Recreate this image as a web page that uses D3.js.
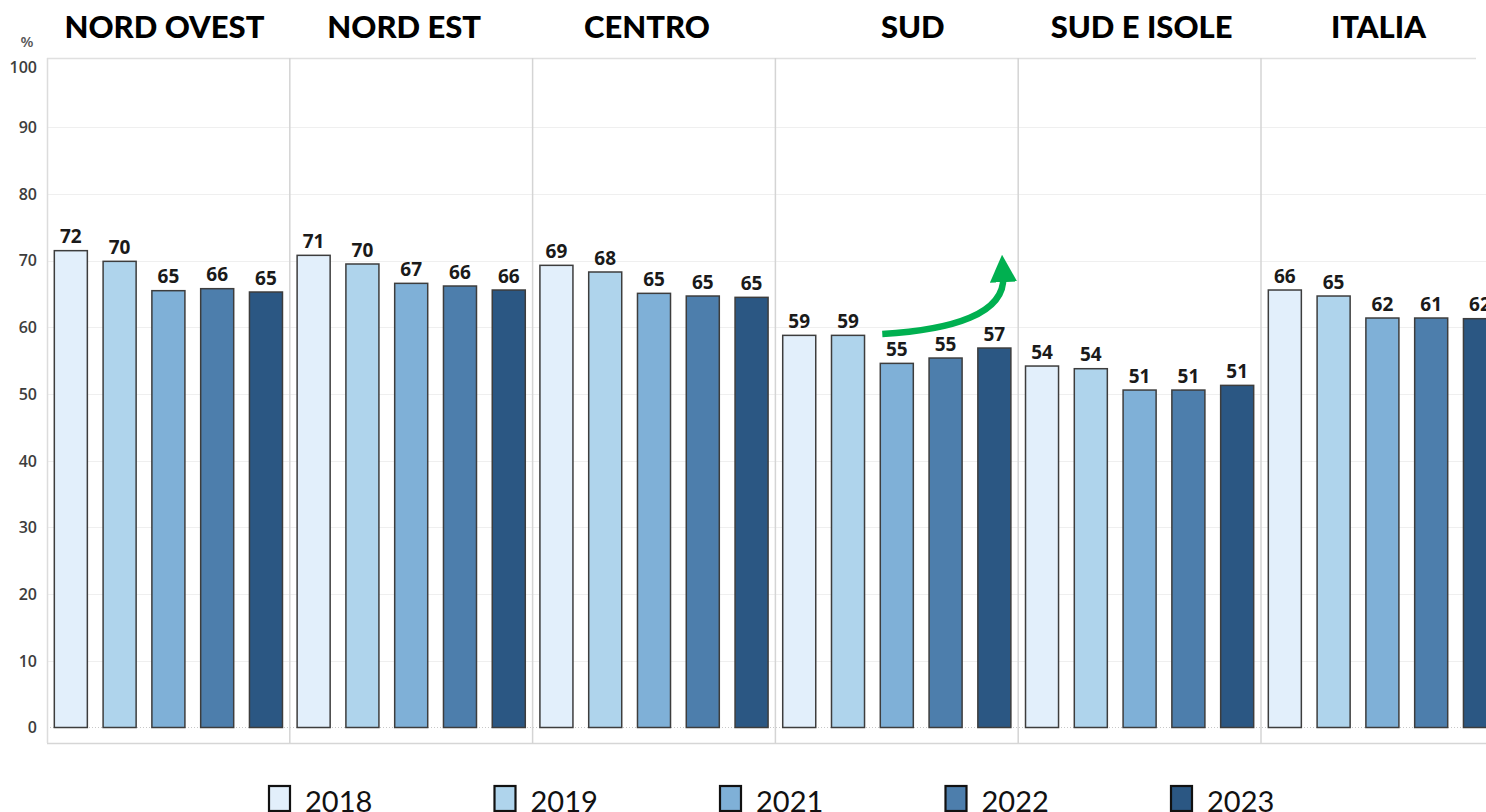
<!DOCTYPE html>
<meta charset="utf-8">
<title>Regioni 2018-2023</title>
<script src="https://d3js.org/d3.v7.min.js"></script>
<style>
  body { margin: 0; background: #fff; overflow: hidden; }
</style>
<div id="my_dataviz"></div>
<script>

// data
var regions = ["NORD OVEST", "NORD EST", "CENTRO", "SUD", "SUD E ISOLE", "ITALIA"];
var years = ["2018", "2019", "2021", "2022", "2023"];
var values2018 = [71.5, 70.8, 69.3, 58.8, 54.2, 65.6];
var values2019 = [69.9, 69.5, 68.3, 58.8, 53.8, 64.7];
var values2021 = [65.5, 66.6, 65.1, 54.6, 50.6, 61.4];
var values2022 = [65.8, 66.2, 64.7, 55.4, 50.6, 61.4];
var values2023 = [65.3, 65.6, 64.5, 56.9, 51.3, 61.3];
var labels2018 = ["72", "71", "69", "59", "54", "66"];
var labels2019 = ["70", "70", "68", "59", "54", "65"];
var labels2021 = ["65", "67", "65", "55", "51", "62"];
var labels2022 = ["66", "66", "65", "55", "51", "61"];
var labels2023 = ["65", "66", "65", "57", "51", "62"];
var yTicks = [0, 10, 20, 30, 40, 50, 60, 70, 80, 90, 100];

var colors = ["#e2effb", "#afd4ec", "#7fb0d7", "#4d7eac", "#2b5783"];

var seriesValues = [values2018, values2019, values2021, values2022, values2023];
var seriesLabels = [labels2018, labels2019, labels2021, labels2022, labels2023];

var data = [];
regions.forEach(function(r, i) {
  years.forEach(function(yr, j) {
    data.push({region: r, year: yr, value: seriesValues[j][i], label: seriesLabels[j][i]});
  });
});

var W = 1486, H = 812;
var plotLeft = 47, plotTop = 58, plotBottom = 743;

var svg = d3.select("#my_dataviz")
  .append("svg")
    .attr("width", W)
    .attr("height", H)
    .style("display", "block");

// scales
var x0 = d3.scaleBand()
  .domain(regions)
  .range([plotLeft, plotLeft + 6 * 242.8])
  .padding(0);

var x1 = d3.scaleBand()
  .domain(years)
  .range([0, x0.bandwidth()])
  .paddingInner(0.323)
  .paddingOuter(0.15);

var y = d3.scaleLinear()
  .domain([0, 100])
  .range([727.5, 60.6]);

var color = d3.scaleOrdinal().domain(years).range(colors);

// grid lines
svg.append("g")
  .selectAll("line")
  .data(yTicks.filter(function(d) { return d > 0 && d < 100; }))
  .enter().append("line")
    .attr("x1", plotLeft)
    .attr("x2", W)
    .attr("y1", function(d) { return Math.round(y(d)) + 0.5; })
    .attr("y2", function(d) { return Math.round(y(d)) + 0.5; })
    .attr("stroke", "#efefef")
    .attr("stroke-width", 1.2);

// zero line, dotted
svg.append("line")
  .attr("x1", plotLeft)
  .attr("x2", W)
  .attr("y1", y(0))
  .attr("y2", y(0))
  .attr("stroke", "#c8c8c8")
  .attr("stroke-dasharray", "1,2");

// frame
svg.append("line")
  .attr("x1", plotLeft).attr("x2", 1476)
  .attr("y1", plotTop + 0.5).attr("y2", plotTop + 0.5)
  .attr("stroke", "#e0e0e0").attr("stroke-width", 1.5);
svg.append("line")
  .attr("x1", plotLeft).attr("x2", W)
  .attr("y1", plotBottom + 0.5).attr("y2", plotBottom + 0.5)
  .attr("stroke", "#d6d6d6").attr("stroke-width", 1.5);
svg.append("line")
  .attr("x1", plotLeft + 0.5).attr("x2", plotLeft + 0.5)
  .attr("y1", plotTop).attr("y2", plotBottom)
  .attr("stroke", "#dcdcdc").attr("stroke-width", 1.5);

// panel separators
svg.append("g")
  .selectAll("line")
  .data(regions.slice(1))
  .enter().append("line")
    .attr("x1", function(d) { return x0(d); })
    .attr("x2", function(d) { return x0(d); })
    .attr("y1", plotTop)
    .attr("y2", plotBottom)
    .attr("stroke", "#d4d4d4")
    .attr("stroke-width", 1.5);

// y axis labels
svg.append("g")
  .selectAll("text")
  .data(yTicks)
  .enter().append("text")
    .attr("x", 37)
    .attr("y", function(d) { return d === 100 ? y(d) + 7 : y(d); })
    .attr("dy", "0.36em")
    .attr("text-anchor", "end")
    .attr("font-family", "'Open Sans', sans-serif")
    .attr("font-weight", 600)
    .attr("font-size", "16px")
    .attr("fill", "#3d3d3d")
    .text(function(d) { return d; });

svg.append("text")
  .attr("x", 27)
  .attr("y", 47)
  .attr("text-anchor", "middle")
  .attr("font-family", "'Open Sans', sans-serif")
  .attr("font-weight", 600)
  .attr("font-size", "15px")
  .attr("fill", "#555")
  .text("%");

// bars
var bars = svg.append("g");
bars.selectAll("rect")
  .data(data)
  .enter().append("rect")
    .attr("x", function(d) { return x0(d.region) + x1(d.year); })
    .attr("y", function(d) { return y(d.value); })
    .attr("width", x1.bandwidth())
    .attr("height", function(d) { return y(0) - y(d.value); })
    .attr("fill", function(d) { return color(d.year); })
    .attr("stroke", "#3d3d3d")
    .attr("stroke-width", 1.5);

// value labels
bars.selectAll("text")
  .data(data)
  .enter().append("text")
    .attr("x", function(d) { return x0(d.region) + x1(d.year) + x1.bandwidth() / 2; })
    .attr("y", function(d) { return y(d.value) - 7.5; })
    .attr("text-anchor", "middle")
    .attr("font-family", "'Open Sans', sans-serif")
    .attr("font-weight", 700)
    .attr("font-size", "19px")
    .attr("fill", "#1a1a1a")
    .text(function(d) { return d.label; });

// panel titles
var titleNudge = {"NORD OVEST": -4, "NORD EST": -7, "CENTRO": -7, "SUD": 16, "SUD E ISOLE": 2, "ITALIA": -4};
svg.append("g")
  .selectAll("text")
  .data(regions)
  .enter().append("text")
    .attr("x", function(d) { return x0(d) + x0.bandwidth() / 2 + titleNudge[d]; })
    .attr("y", 38)
    .attr("text-anchor", "middle")
    .attr("font-family", "Lato, sans-serif")
    .attr("font-weight", 900)
    .attr("font-size", "31px")
    .attr("fill", "#000")
    .text(function(d) { return d; });

// green arrow annotation in the SUD panel
var ax0 = x0("SUD") + x1("2021") + 2,
    ay0 = y(59),
    ax1 = x0("SUD E ISOLE") - 15,
    ay1 = y(67.6);
svg.append("defs").append("marker")
  .attr("id", "arrowhead")
  .attr("viewBox", "0 0 10 10")
  .attr("refX", 2)
  .attr("refY", 5)
  .attr("markerWidth", 4.2)
  .attr("markerHeight", 4.2)
  .attr("markerUnits", "strokeWidth")
  .attr("orient", "auto")
  .append("path")
    .attr("d", "M0,0 L10,5 L0,10 Z")
    .attr("fill", "#00b050");
svg.append("path")
  .attr("d", "M" + ax0 + "," + ay0 +
             " C" + (ax0 + 70) + "," + (ay0 - 4) + " " + (ax1 + 2) + "," + (ay0 - 20) + " " + ax1 + "," + ay1)
  .attr("fill", "none")
  .attr("stroke", "#00b050")
  .attr("stroke-width", 6.5)
  .attr("marker-end", "url(#arrowhead)");

// legend
var legend = svg.append("g")
  .selectAll("g")
  .data(years)
  .enter().append("g")
    .attr("transform", function(d, i) { return "translate(" + (269 + i * 225.5) + ",786)"; });
legend.append("rect")
  .attr("width", 21)
  .attr("height", 25)
  .attr("fill", function(d) { return color(d); })
  .attr("stroke", "#111")
  .attr("stroke-width", 2.2);
legend.append("text")
  .attr("x", 36)
  .attr("y", 26)
  .attr("font-family", "Lato, sans-serif")
  .attr("font-size", "29px")
  .attr("fill", "#111")
  .text(function(d) { return d; });

</script>
